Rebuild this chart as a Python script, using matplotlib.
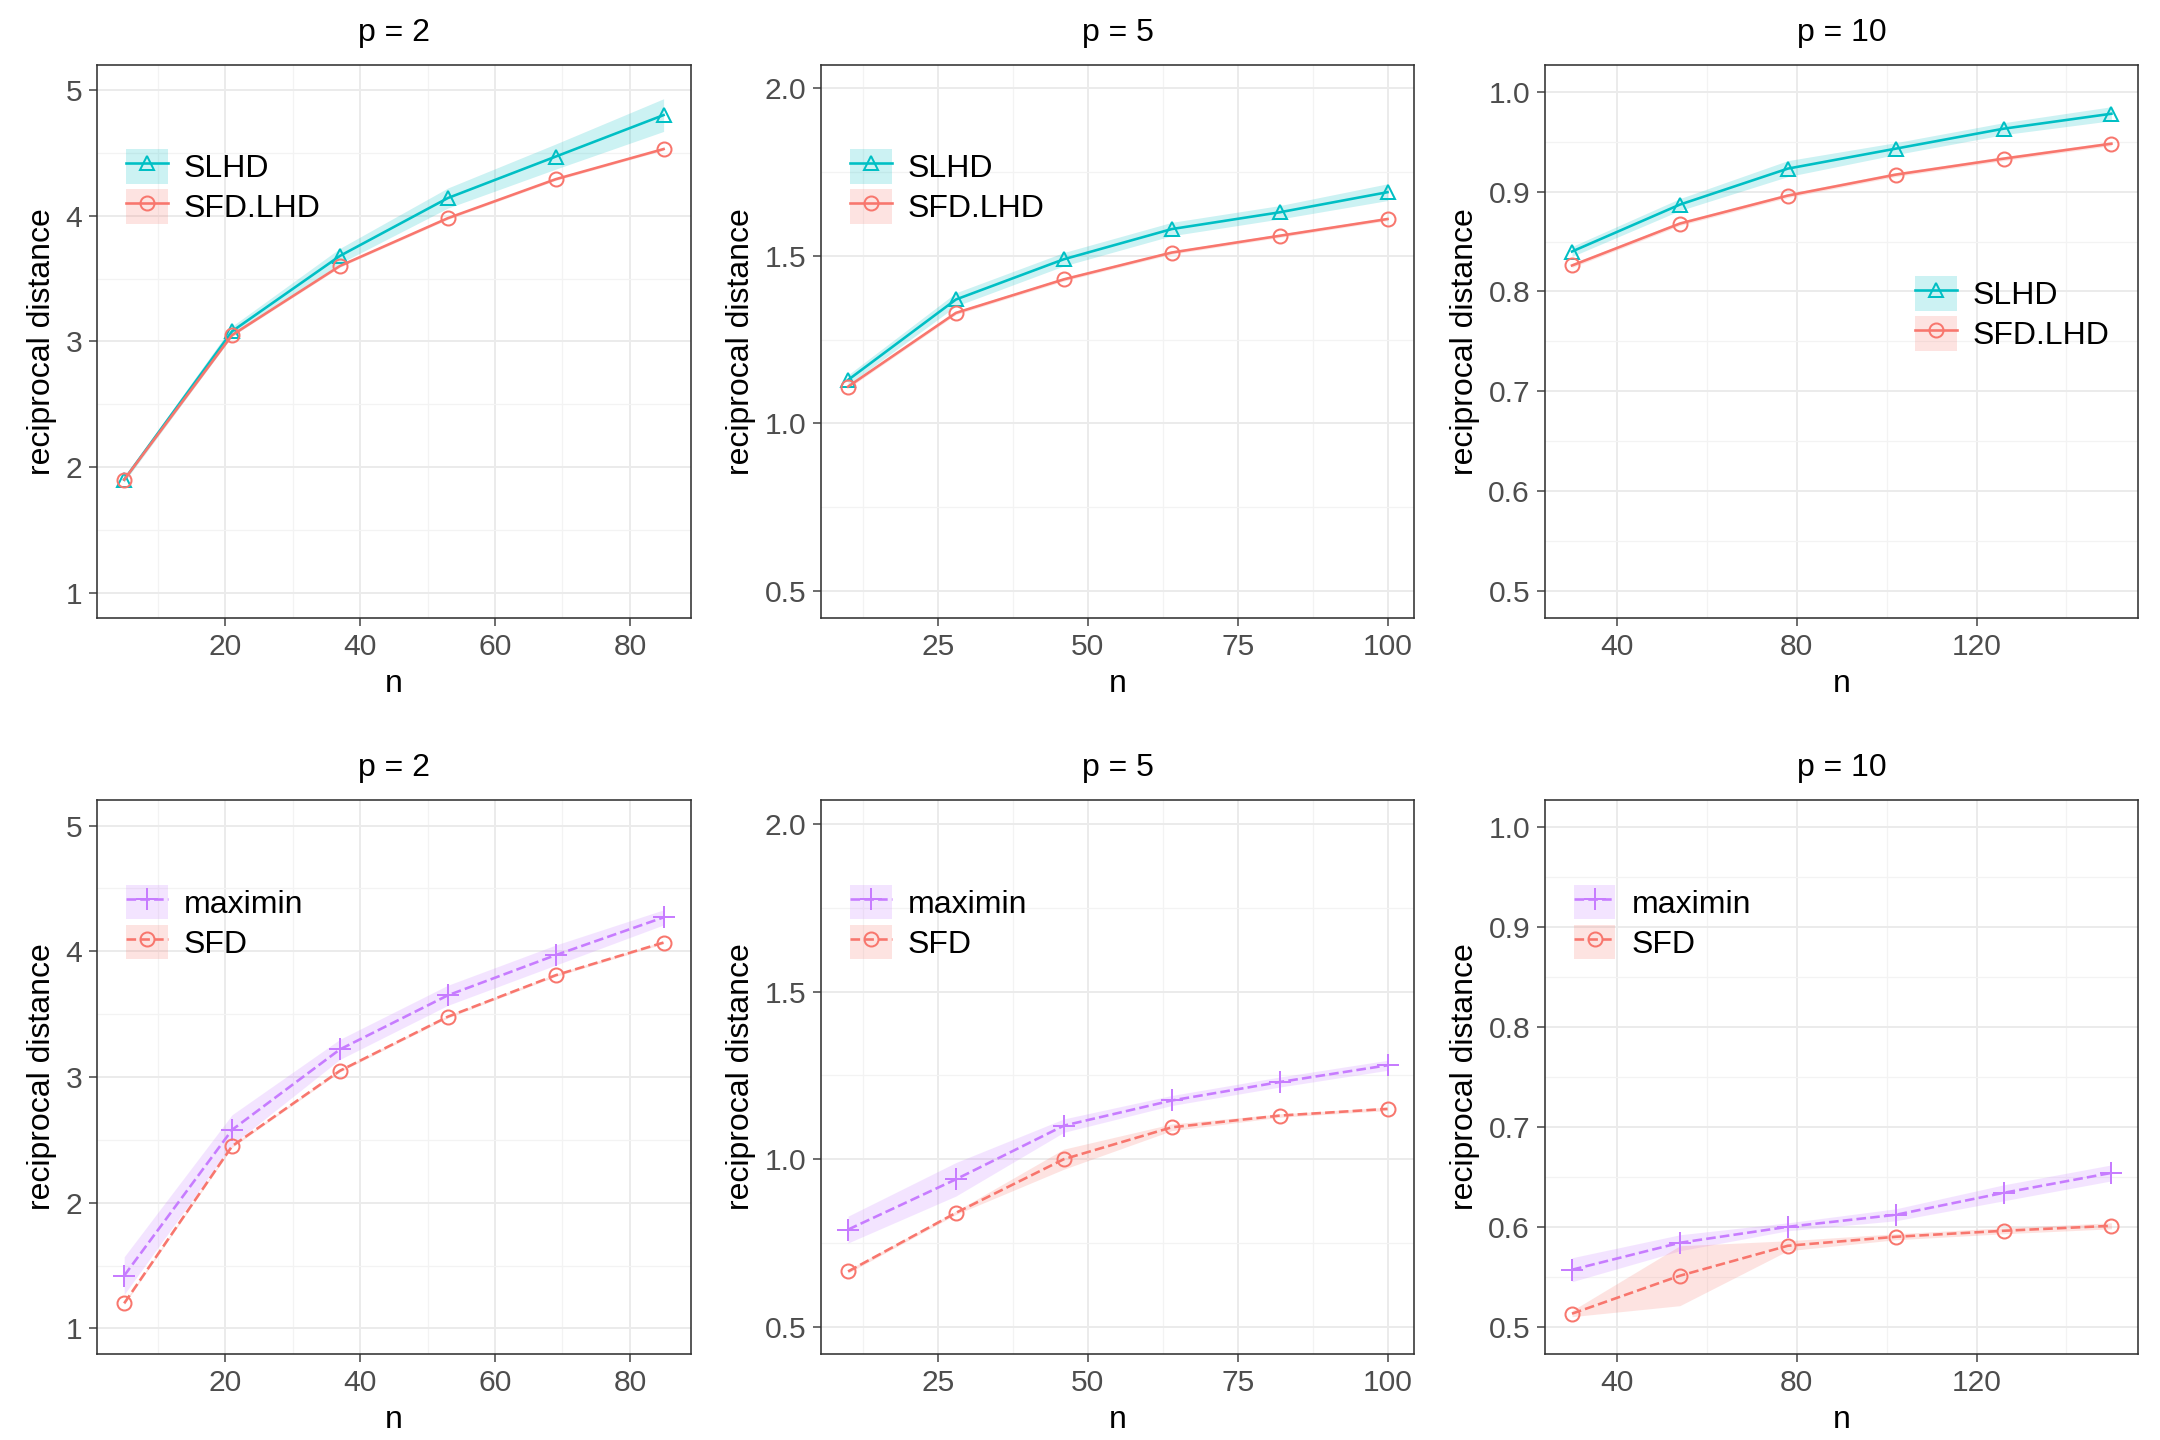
import matplotlib
matplotlib.use("Agg")
import matplotlib.pyplot as plt
import numpy as np

plt.rcParams['font.family'] = ['Liberation Sans', 'DejaVu Sans']

n_p2 = [5, 21, 37, 53, 69, 85]
n_p5 = [10, 28, 46, 64, 82, 100]
n_p10 = [30, 54, 78, 102, 126, 150]

slhd_p2 = [1.9, 3.08, 3.68, 4.14, 4.47, 4.80]
sfdlhd_p2 = [1.9, 3.05, 3.60, 3.98, 4.29, 4.53]
slhd_p5 = [1.13, 1.37, 1.49, 1.58, 1.63, 1.69]
sfdlhd_p5 = [1.11, 1.33, 1.43, 1.51, 1.56, 1.61]
slhd_p10 = [0.840, 0.887, 0.923, 0.943, 0.963, 0.978]
sfdlhd_p10 = [0.826, 0.868, 0.896, 0.917, 0.933, 0.948]

maximin_p2 = [1.42, 2.58, 3.22, 3.65, 3.97, 4.27]
sfd_p2 = [1.20, 2.45, 3.05, 3.48, 3.81, 4.07]
maximin_p5 = [0.79, 0.94, 1.10, 1.175, 1.23, 1.28]
sfd_p5 = [0.665, 0.84, 1.00, 1.095, 1.13, 1.15]
maximin_p10 = [0.557, 0.584, 0.600, 0.612, 0.634, 0.654]
sfd_p10 = [0.513, 0.551, 0.581, 0.590, 0.596, 0.601]

# ribbon half-widths
bw_slhd_p2 = [0.02, 0.04, 0.06, 0.08, 0.10, 0.13]
bw_sfdlhd_p2 = [0.01, 0.01, 0.01, 0.01, 0.01, 0.01]
bw_slhd_p5 = [0.015, 0.02, 0.02, 0.02, 0.02, 0.025]
bw_sfdlhd_p5 = [0.005, 0.005, 0.005, 0.005, 0.005, 0.005]
bw_slhd_p10 = [0.005, 0.006, 0.008, 0.006, 0.006, 0.007]
bw_sfdlhd_p10 = [0.002, 0.002, 0.002, 0.002, 0.002, 0.002]
bw_maximin_p2 = [0.15, 0.12, 0.08, 0.08, 0.08, 0.06]
bw_sfd_p2 = [0.01, 0.01, 0.01, 0.01, 0.01, 0.01]
bw_maximin_p5 = [0.04, 0.05, 0.02, 0.015, 0.015, 0.015]
bw_sfd_p5 = [0.005, 0.005, 0.03, 0.01, 0.005, 0.005]
bw_maximin_p10 = [0.012, 0.008, 0.004, 0.006, 0.008, 0.008]
bw_sfd_p10 = [0.003, 0.03, 0.005, 0.003, 0.003, 0.003]

C_SLHD = "#00BFC4"; C_SFD = "#F8766D"; C_MAX = "#C77CFF"

fig, axes = plt.subplots(2, 3, figsize=(15, 10), dpi=144)

cfg = [
    (n_p2, [(slhd_p2, bw_slhd_p2, "SLHD", C_SLHD, "^", "-"), (sfdlhd_p2, bw_sfdlhd_p2, "SFD.LHD", C_SFD, "o", "-")],
     "p = 2", (0.8, 5.2), [1, 2, 3, 4, 5], (1, 89), [20, 40, 60, 80], "upper left"),
    (n_p5, [(slhd_p5, bw_slhd_p5, "SLHD", C_SLHD, "^", "-"), (sfdlhd_p5, bw_sfdlhd_p5, "SFD.LHD", C_SFD, "o", "-")],
     "p = 5", (0.42, 2.07), [0.5, 1.0, 1.5, 2.0], (5.5, 104.5), [25, 50, 75, 100], "upper left"),
    (n_p10, [(slhd_p10, bw_slhd_p10, "SLHD", C_SLHD, "^", "-"), (sfdlhd_p10, bw_sfdlhd_p10, "SFD.LHD", C_SFD, "o", "-")],
     "p = 10", (0.473, 1.027), [0.5, 0.6, 0.7, 0.8, 0.9, 1.0], (24, 156), [40, 80, 120], "center right"),
    (n_p2, [(maximin_p2, bw_maximin_p2, "maximin", C_MAX, "+", "--"), (sfd_p2, bw_sfd_p2, "SFD", C_SFD, "o", "--")],
     "p = 2", (0.8, 5.2), [1, 2, 3, 4, 5], (1, 89), [20, 40, 60, 80], "upper left"),
    (n_p5, [(maximin_p5, bw_maximin_p5, "maximin", C_MAX, "+", "--"), (sfd_p5, bw_sfd_p5, "SFD", C_SFD, "o", "--")],
     "p = 5", (0.42, 2.07), [0.5, 1.0, 1.5, 2.0], (5.5, 104.5), [25, 50, 75, 100], "upper left"),
    (n_p10, [(maximin_p10, bw_maximin_p10, "maximin", C_MAX, "+", "--"), (sfd_p10, bw_sfd_p10, "SFD", C_SFD, "o", "--")],
     "p = 10", (0.473, 1.027), [0.5, 0.6, 0.7, 0.8, 0.9, 1.0], (24, 156), [40, 80, 120], "upper left"),
]

for ax, (n, series, title, ylim, yt, xlim, xt, loc) in zip(axes.flat, cfg):
    x = np.array(n)
    handles = []
    for y, bw, lab, col, mk, ls in series:
        y = np.array(y); bw = np.array(bw)
        ax.fill_between(x, y - bw, y + bw, color=col, alpha=0.2, lw=0)
        ms = 11 if mk == "+" else 7
        ax.plot(x, y, color=col, ls=ls, lw=1.3, marker=mk, ms=ms, mfc="none", mec=col, mew=1.0)
        h1 = plt.Rectangle((0, 0), 1, 1, color=col, alpha=0.2, lw=0)
        h2 = matplotlib.lines.Line2D([], [], color=col, ls=ls, lw=1.3, marker=mk, ms=ms, mfc="none", mec=col)
        handles.append(((h1, h2), lab))
    ax.set_xticks(xt); ax.set_yticks(yt)
    yt_arr = np.array(yt, float); step = yt_arr[1] - yt_arr[0]
    ax.set_yticks(list(yt_arr[:-1] + step / 2) + [yt_arr[0] - step / 2, yt_arr[-1] + step / 2], minor=True)
    xt_arr = np.array(xt, float); xs = xt_arr[1] - xt_arr[0]
    ax.set_xticks(list(np.arange(xt_arr[0] - xs / 2, xlim[1], xs)), minor=True)
    ax.set_xlim(*xlim); ax.set_ylim(*ylim)
    ax.grid(True, which="major", color="#EBEBEB", lw=1.0)
    ax.grid(True, which="minor", color="#F3F3F3", lw=0.6)
    ax.set_axisbelow(True)
    ax.tick_params(which="minor", length=0)
    ax.tick_params(which="major", labelsize=15, colors="#4D4D4D", length=4)
    for s in ax.spines.values():
        s.set_color("#333333"); s.set_linewidth(0.8)
    ax.set_title(title, fontsize=16, pad=12)
    ax.set_xlabel("n", fontsize=16)
    ax.set_ylabel("reciprocal distance", fontsize=16)
    ax.legend([h for h, _ in handles], [l for _, l in handles], loc=loc, frameon=False,
              fontsize=16, handlelength=1.3, handleheight=1.3, labelspacing=0.15, handletextpad=0.5,
              bbox_to_anchor=(0.0, 0.9) if loc == "upper left" else (1.0, 0.55))

fig.subplots_adjust(left=0.045, right=0.99, top=0.955, bottom=0.06, wspace=0.22, hspace=0.33)
fig.savefig("out.png")
